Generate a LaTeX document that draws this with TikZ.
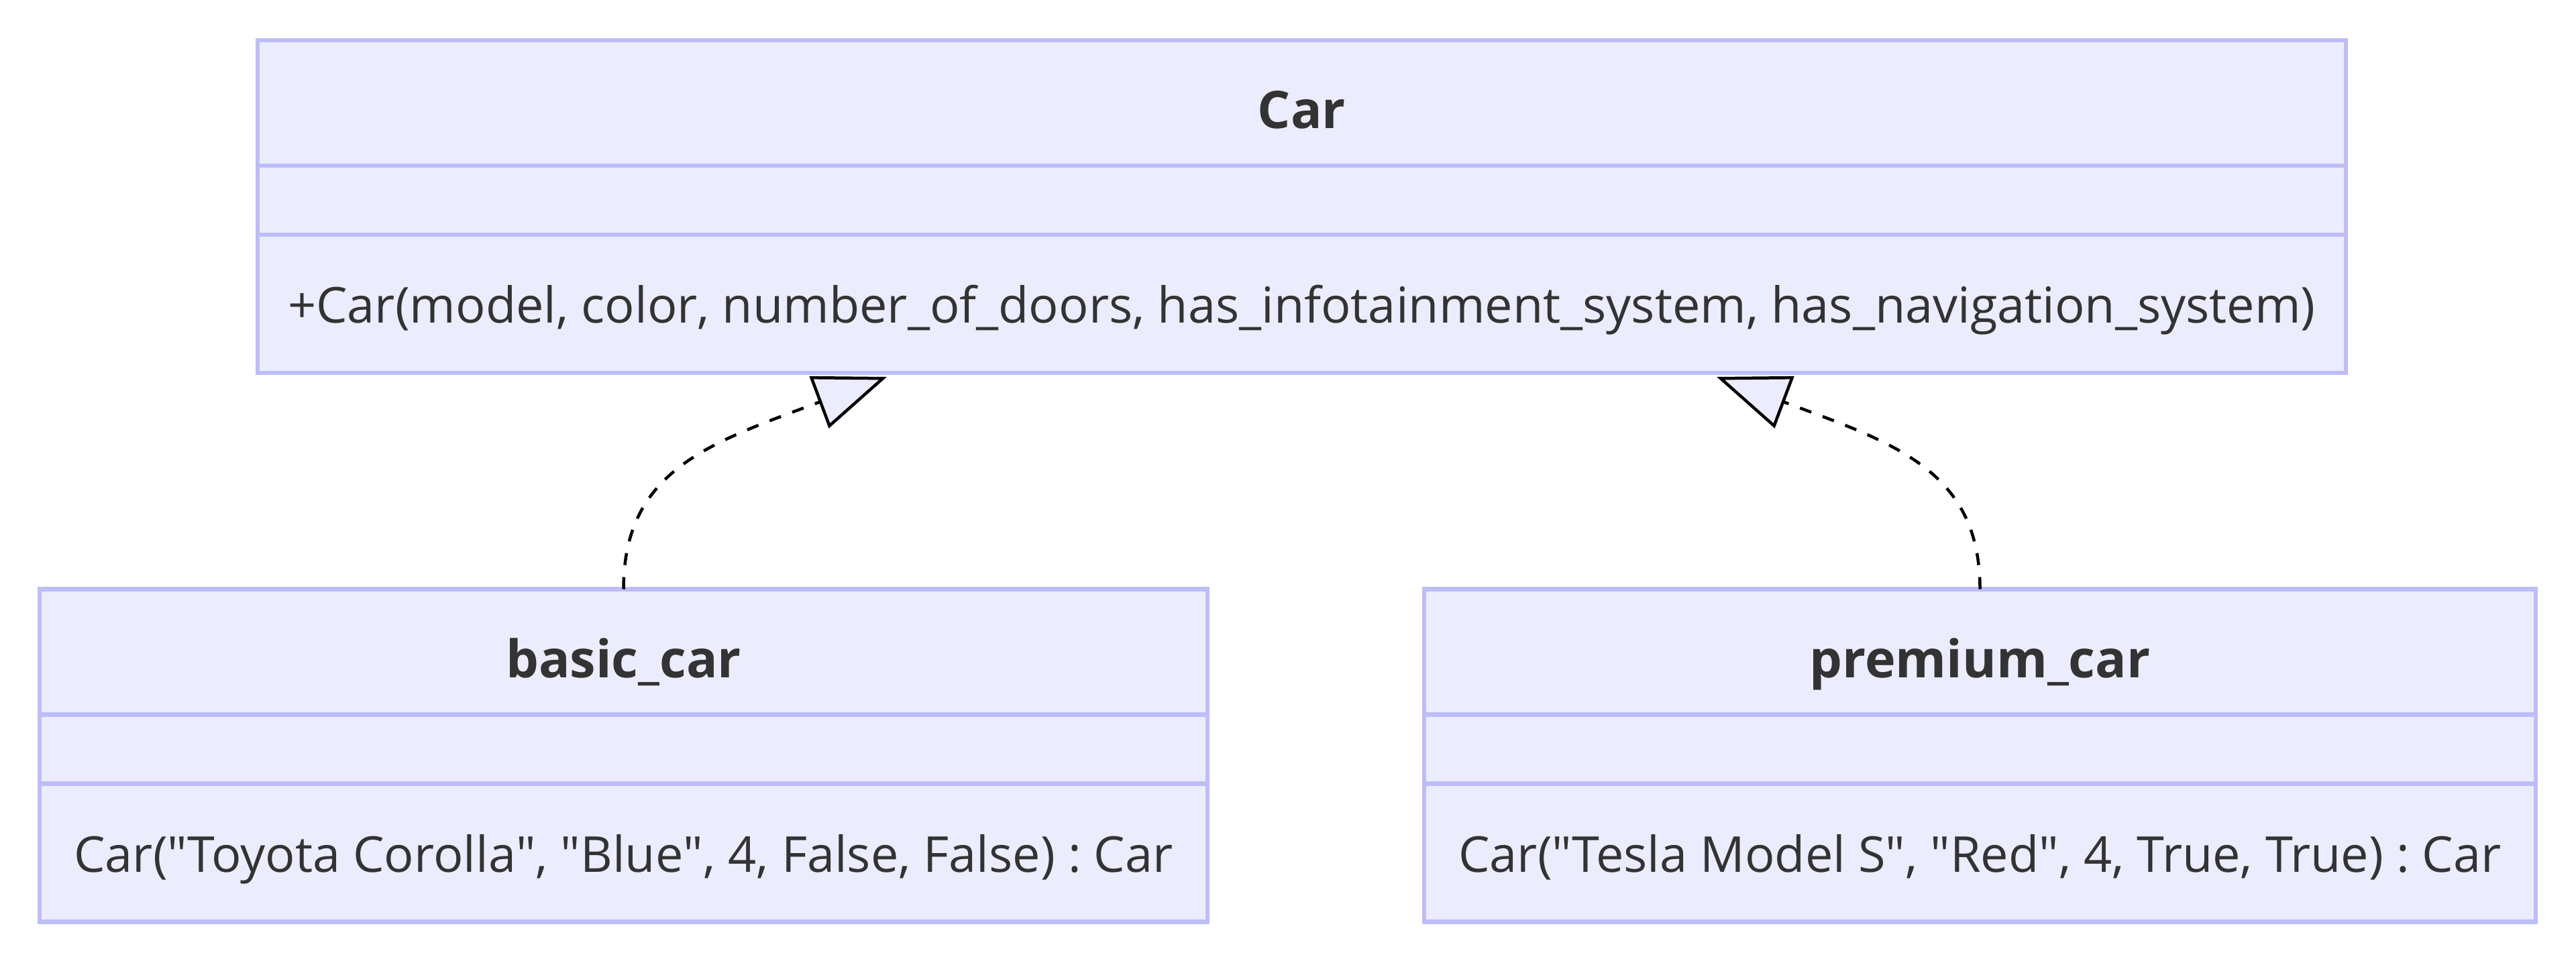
\documentclass[tikz,border=0pt]{standalone}
\usepackage{fontspec}
\setmainfont{Open Sans}
\usetikzlibrary{positioning}
\usetikzlibrary{arrows.meta}
\definecolor{classfill}{HTML}{ECECFF}
\definecolor{classline}{HTML}{BDBDF8}
\definecolor{classtext}{HTML}{333333}
\newcommand{\qq}{\textquotedbl}
\frenchspacing

\begin{document}
\begin{tikzpicture}[
    box/.style={draw=classline, fill=classfill, line width=0.065cm, inner sep=0pt, outer sep=0pt,
        text=classtext, font=\fontsize{21pt}{26pt}\selectfont},
    head/.style={box, minimum height=1.87cm, text height=0.77cm, text depth=0cm, font=\fontsize{22pt}{26pt}\selectfont\bfseries},
    attr/.style={box, minimum height=1.03cm},
    ops/.style={box, minimum height=2.06cm, text height=0.58cm, text depth=0cm},
    realize/.style={dash pattern=on 0.18cm off 0.18cm, line width=0.045cm,
        -{Triangle[open, length=1.08cm, width=0.82cm, fill=classfill]}}
]
    \useasboundingbox (0,0) rectangle (38.40,-14.27);

    \node[head, minimum width=31.13cm] (car) at (19.405,-1.535) {Car};
    \node[attr, minimum width=31.13cm, below=0pt of car] (carattr) {};
    \node[ops, minimum width=31.13cm, below=0pt of carattr] (carops) {+Car(model, color, number\_of\_doors, has\_infotainment\_system, has\_navigation\_system)};

    \node[head, minimum width=17.41cm] (basic) at (9.295,-9.72) {basic\_car};
    \node[attr, minimum width=17.41cm, below=0pt of basic] (basicattr) {};
    \node[ops, minimum width=17.41cm, below=0pt of basicattr] (basicops) {Car(\qq Toyota Corolla\qq, \qq Blue\qq, 4, False, False) : Car};

    \node[head, minimum width=16.57cm] (premium) at (29.515,-9.72) {premium\_car};
    \node[attr, minimum width=16.57cm, below=0pt of premium] (premiumattr) {};
    \node[ops, minimum width=16.57cm, below=0pt of premiumattr] (premiumops) {Car(\qq Tesla Model S\qq, \qq Red\qq, 4, True, True) : Car};

    \coordinate (tipL) at (13.22,-5.62);
    \coordinate (tipR) at (25.59,-5.62);
    \draw[realize] (basic.north) .. controls (9.295,-7.0) and (10.60,-6.60) .. (tipL);
    \draw[realize] (premium.north) .. controls (29.515,-7.0) and (28.21,-6.60) .. (tipR);
\end{tikzpicture}
\end{document}
